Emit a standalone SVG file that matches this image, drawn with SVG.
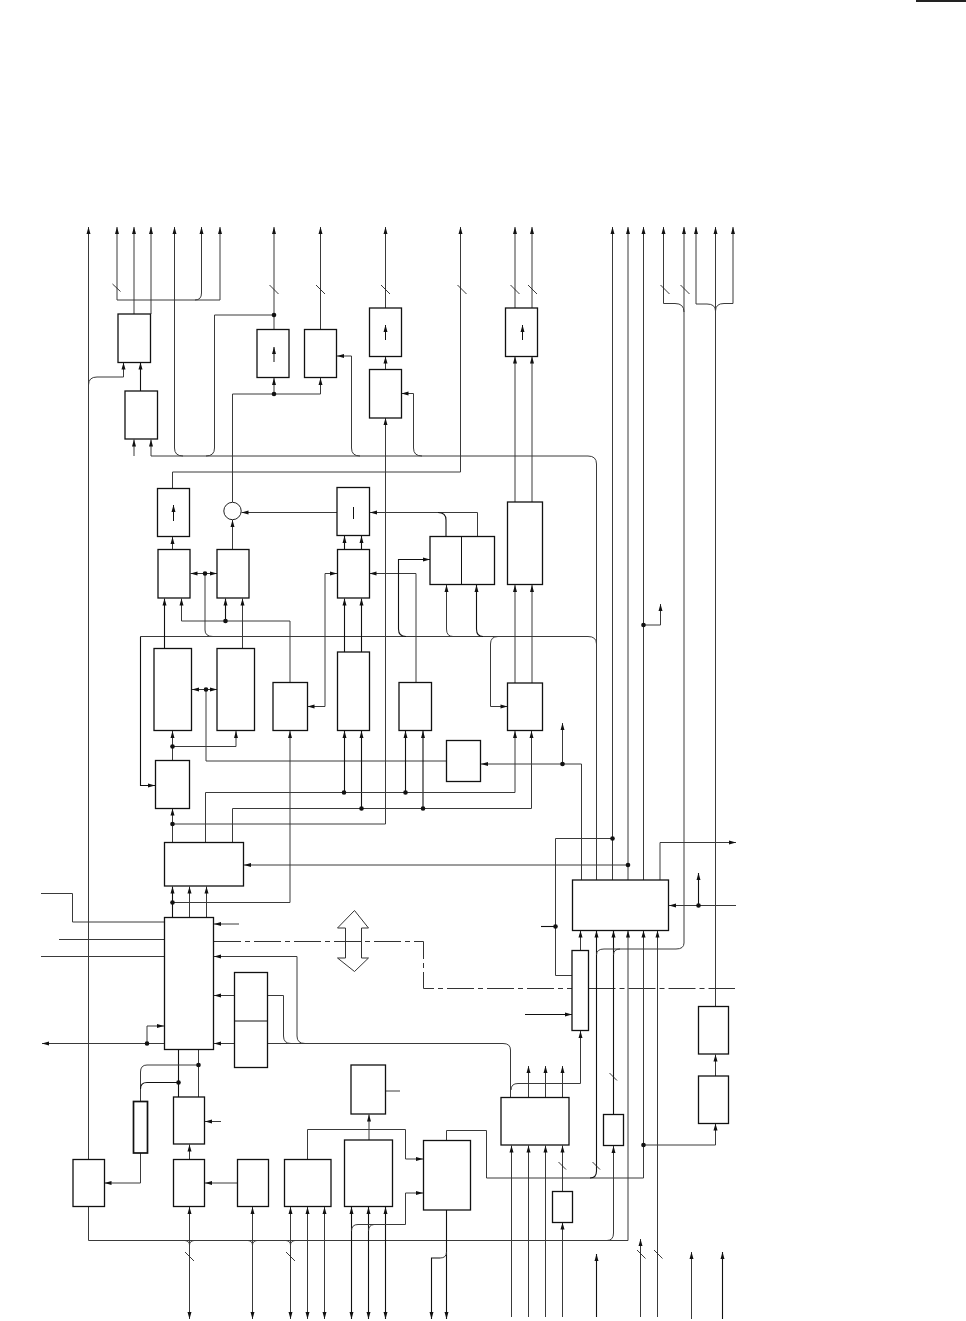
<svg xmlns="http://www.w3.org/2000/svg" width="966" height="1321" viewBox="0 0 966 1321">
<style>
.l{fill:none;stroke:#3a3a3a;stroke-width:1}
.h{fill:none;stroke:#111;stroke-width:1.1}
.a{marker-end:url(#ah)}
.b{marker-start:url(#ah);marker-end:url(#ah)}
.s{fill:none;stroke:#222;stroke-width:.9}
.d{fill:none;stroke:#333;stroke-width:1;stroke-dasharray:27 4 5 4}
.n{fill:#fff;stroke:#111;stroke-width:1.3}
.t{fill:#fff;stroke:#111;stroke-width:1.7}
.i{fill:none;stroke:#111;stroke-width:1}
circle.p{fill:#111;stroke:none}
</style>
<defs>
<marker id="ah" markerUnits="userSpaceOnUse" markerWidth="8" markerHeight="6" refX="7.5" refY="3" orient="auto-start-reverse"><path d="M0.5 1 L7.5 3 L0.5 5 Z" fill="#111"/></marker>
</defs>
<rect id="corner-bar" x="916" y="0" width="50" height="2" fill="#222"/>
<g id="connectors">
<path class="l a" d="M88.500 1159V227"/>
<path class="l" d="M88.500 385Q88.500 377 97 377H123.500"/>
<path class="l a" d="M123.500 377V362.500"/>
<path class="l a" d="M117 300V227"/>
<path class="l a" d="M134 314V227"/>
<path class="l a" d="M151 314V227"/>
<path class="l" d="M117 300H220"/>
<path class="l" d="M195 300Q201.500 300 201.500 293"/>
<path class="l a" d="M201.500 293V227"/>
<path class="l a" d="M220 300V227"/>
<path class="h a" d="M140.500 391V362.500"/>
<path class="l a" d="M134 456V439.500"/>
<path class="l a" d="M151 456V439.500"/>
<path class="l" d="M151 456H588Q596.500 456 596.500 464V880"/>
<path class="l a" d="M183 456Q174.500 456 174.500 448V227"/>
<path class="l" d="M206 456Q214.500 456 214.500 448V315H274"/>
<path class="l a" d="M274 329V227"/>
<path class="l a" d="M320.500 329V227"/>
<path class="l" d="M232.500 502V394H320.500"/>
<path class="l a" d="M274 394V378"/>
<path class="l a" d="M320.500 394V378"/>
<path class="l a" d="M360 456Q351.500 456 351.500 448V356H337"/>
<path class="l a" d="M422 456Q413.500 456 413.500 448V393.500H401.500"/>
<path class="l a" d="M385.500 308V227"/>
<path class="l a" d="M385.500 369V356.500"/>
<path class="l a" d="M385.500 824V418"/>
<path class="l a" d="M515 308V227"/>
<path class="l a" d="M532 308V227"/>
<path class="l a" d="M515 502V356.500"/>
<path class="l a" d="M532 502V356.500"/>
<path class="l a" d="M612.500 880V227"/>
<path class="l a" d="M628 880V227"/>
<path class="l a" d="M643.500 880V227"/>
<path class="l a" d="M663.500 303.500V227"/>
<path class="l" d="M663.500 303.500H675Q684 303.500 684 312"/>
<path class="l a" d="M684 943V227"/>
<path class="l a" d="M696 304V227"/>
<path class="l a" d="M715.500 1006V227"/>
<path class="l a" d="M733 303.500V227"/>
<path class="l" d="M696 304H707Q715.500 304 715.500 311Q715.500 303.500 724 303.500H733"/>
<path class="l" d="M172.500 488V472H460.500"/>
<path class="l a" d="M460.500 472V227"/>
<path class="l a" d="M172.500 550V537"/>
<path class="l a" d="M232.500 550V520"/>
<path class="l a" d="M337 512.500H241.500"/>
<path class="l a" d="M477.500 537V512.500H370"/>
<path class="h" d="M446 537V520Q446 512.500 438 512.500"/>
<path class="h a" d="M344.500 550V536"/>
<path class="h a" d="M361.500 550V536"/>
<path class="l a" d="M205 573.500H190.500"/>
<path class="l a" d="M205 573.500H217"/>
<path class="l" d="M205 573.500V630Q205 636.500 213 636.500"/>
<path class="l" d="M140.500 636.500H588Q596.500 636.500 596.500 644"/>
<path class="h a" d="M140.500 636.500V785.500H155"/>
<path class="l a" d="M206 689.500H192"/>
<path class="l a" d="M206 689.500H217"/>
<path class="l" d="M206 689.500V761H446"/>
<path class="h a" d="M164.500 648V598.500"/>
<path class="l a" d="M242.500 648V598.500"/>
<path class="l a" d="M181.500 621V598.500"/>
<path class="l" d="M181.500 621H290V682"/>
<path class="h a" d="M225.500 621V598.500"/>
<path class="l a" d="M290 902.500V731"/>
<path class="l" d="M172.500 902.500H290"/>
<path class="l a" d="M325 706.500H307.500"/>
<path class="l a" d="M325 706.500V573.500H337"/>
<path class="h a" d="M344.500 652V598.500"/>
<path class="h a" d="M361.500 652V598.500"/>
<path class="h a" d="M344.500 792V731"/>
<path class="h a" d="M361.500 808.500V731"/>
<path class="l a" d="M416 682V573.500H369.500"/>
<path class="h a" d="M405.500 792V731"/>
<path class="h a" d="M423 808.500V731"/>
<path class="h a" d="M406 636.500Q398.500 636.500 398.500 629V559.500H430"/>
<path class="l a" d="M453 636.500Q446.500 636.500 446.500 629V585"/>
<path class="h a" d="M483 636.500Q476.500 636.500 476.500 629V585"/>
<path class="l a" d="M515 683V585"/>
<path class="l a" d="M532 683V585"/>
<path class="l a" d="M498 636.500Q490.500 636.500 490.500 644V706.500H507.500"/>
<path class="l a" d="M205.500 842V792.500H515V731"/>
<path class="l a" d="M232.500 842V808.500H531.500V731"/>
<path class="l a" d="M172.500 842V808.500"/>
<path class="l a" d="M172.500 760V731"/>
<path class="l a" d="M172.500 746.500H236V731"/>
<path class="l" d="M172.500 824H385.500"/>
<path class="l a" d="M581.500 880V764H481"/>
<path class="l a" d="M562.500 764V723"/>
<path class="l a" d="M643.500 625H660.500V604"/>
<path class="l" d="M612.500 838.500H555.500V975.500H572"/>
<path class="h" d="M541 926.500H555.500"/>
<path class="l a" d="M628 865H244"/>
<path class="l a" d="M660 880V842.500H736"/>
<path class="l a" d="M736 905.500H669"/>
<path class="h a" d="M698.500 905.500V873"/>
<path class="h a" d="M172.500 917V886.500"/>
<path class="l a" d="M189.500 917V886.500"/>
<path class="l a" d="M206.500 917V886.500"/>
<path class="l" d="M41 893.500H72.500V922H164"/>
<path class="l" d="M59 939.500H164"/>
<path class="l" d="M41 956.500H164"/>
<path class="l a" d="M239 924H214"/>
<path class="d" d="M214 941.500H423.500V988.500H572"/>
<path class="d" d="M588.500 988.500H735"/>
<path class="l a" d="M297 1036V956.500H214"/>
<path class="l" d="M305 1043.500Q297 1043.500 297 1036"/>
<path class="l" d="M268 1043.500H503Q510.500 1043.500 510.500 1050V1097"/>
<path class="l a" d="M234 995.500H214"/>
<path class="l" d="M268 995.500H283.500V1036Q283.500 1043.500 291 1043.500"/>
<path class="l a" d="M234 1043.500H214"/>
<path class="l a" d="M164 1043.500H42"/>
<path class="l a" d="M147 1043.500V1026H164"/>
<path class="h" d="M178.500 1050V1097"/>
<path class="l" d="M198.500 1050V1097"/>
<path class="l" d="M198.500 1065H147Q140.500 1065 140.500 1072V1101"/>
<path class="h" d="M178.500 1082.500H147Q140.500 1082.500 140.500 1089"/>
<path class="l a" d="M140.500 1153V1183H104.500"/>
<path class="l" d="M88.500 1206V1240.500H628"/>
<path class="l a" d="M628 1240.500V930.500"/>
<path class="l a" d="M607 1240.500Q613.500 1240.500 613.500 1233V1146"/>
<path class="h a" d="M613.500 1114V930.500"/>
<path class="l a" d="M189.500 1159V1144.500"/>
<path class="l a" d="M237 1183H205"/>
<path class="l a" d="M221 1121.500H205"/>
<path class="l b" d="M189.500 1207V1319"/>
<path class="l b" d="M252.500 1207V1319"/>
<path class="l b" d="M290.500 1207V1319"/>
<path class="l b" d="M307.500 1207V1319"/>
<path class="l b" d="M324.500 1207V1319"/>
<path class="h b" d="M351.500 1207V1319"/>
<path class="h b" d="M368.500 1207V1319"/>
<path class="h b" d="M385.500 1207V1319"/>
<path class="l" d="M185 1240.500Q189.500 1241 189.500 1245Q189.500 1241 194 1240.500"/>
<path class="l" d="M248 1240.500Q252.500 1241 252.500 1245Q252.500 1241 257 1240.500"/>
<path class="l" d="M286 1240.500Q290.500 1241 290.500 1245Q290.500 1241 295 1240.500"/>
<path class="l a" d="M307.500 1159V1129.500H405.500V1159H423"/>
<path class="l a" d="M405.500 1224.500V1193H423"/>
<path class="l" d="M405.500 1224.500H358Q351.500 1224.500 351.500 1231"/>
<path class="l" d="M374 1224.500Q368.500 1225 368.500 1231"/>
<path class="l a" d="M369 1140V1114.500"/>
<path class="l" d="M386 1091H400"/>
<path class="l" d="M446.500 1140V1130.500H486.500V1178H643.500"/>
<path class="h a" d="M590 1178Q596.500 1178 596.500 1171V930.500"/>
<path class="h a" d="M446.500 1210V1319"/>
<path class="h a" d="M440 1258H431.500V1319"/>
<path class="l" d="M440 1258Q446.500 1258 446.500 1252"/>
<path class="l" d="M518 1083.500Q511 1083.500 511 1090"/>
<path class="l a" d="M518 1083.500H580.500V1031"/>
<path class="l" d="M684 943Q684 949 676 949H604Q596.500 949 596.500 955"/>
<path class="l" d="M620 949Q613.500 949 613.500 955"/>
<path class="l a" d="M580.500 951V930.500"/>
<path class="h a" d="M525 1014.500H572"/>
<path class="l a" d="M643.500 1178V930.500"/>
<path class="l a" d="M657.500 1317V930.500"/>
<path class="l a" d="M643.500 1145H715.500V1123.500"/>
<path class="l a" d="M715.500 1076V1054.500"/>
<path class="l a" d="M528.500 1097.500V1066"/>
<path class="l a" d="M545.500 1097.500V1066"/>
<path class="l a" d="M562.500 1097.500V1066"/>
<path class="l a" d="M511.500 1317V1145.500"/>
<path class="l a" d="M528.500 1317V1145.500"/>
<path class="l a" d="M545.500 1317V1145.500"/>
<path class="l a" d="M562.500 1191V1145.500"/>
<path class="l a" d="M562.500 1317V1222.500"/>
<path class="h a" d="M596.500 1317V1254"/>
<path class="l a" d="M640.500 1317V1239"/>
<path class="l a" d="M691.500 1319V1252"/>
<path class="h a" d="M722.500 1319V1252"/>
<path class="s" d="M112.500 284l8 7.500M269.500 285l9 9M316 285l9 9M381 285l9 9M457.500 285l9 9M510.500 285l9 9M528 285l9 9M660.500 285l9 9M680.500 285l9 9M185 1252l9 9M286 1252l9 9M558.500 1162l7.500 7.500M592.500 1162l7.500 7.500M609.500 1073l7.500 7.500M637 1250l8.500 8.500M654 1250l8.500 8.500"/>
<circle class="p" cx="274" cy="315" r="2.300"/>
<circle class="p" cx="274" cy="394" r="2.300"/>
<circle class="p" cx="205" cy="573.500" r="2.300"/>
<circle class="p" cx="206" cy="689.500" r="2.300"/>
<circle class="p" cx="225.500" cy="621" r="2.300"/>
<circle class="p" cx="172.500" cy="746.500" r="2.300"/>
<circle class="p" cx="172.500" cy="824" r="2.300"/>
<circle class="p" cx="172.500" cy="902.500" r="2.300"/>
<circle class="p" cx="344" cy="792.500" r="2.300"/>
<circle class="p" cx="405.500" cy="792.500" r="2.300"/>
<circle class="p" cx="361.500" cy="808.500" r="2.300"/>
<circle class="p" cx="423" cy="808.500" r="2.300"/>
<circle class="p" cx="562.500" cy="764" r="2.300"/>
<circle class="p" cx="643.500" cy="625" r="2.300"/>
<circle class="p" cx="612.500" cy="838.500" r="2.300"/>
<circle class="p" cx="628" cy="865" r="2.300"/>
<circle class="p" cx="698.500" cy="905.500" r="2.300"/>
<circle class="p" cx="555.500" cy="926.500" r="2.300"/>
<circle class="p" cx="147" cy="1043.500" r="2.300"/>
<circle class="p" cx="198.500" cy="1065" r="2.300"/>
<circle class="p" cx="178.500" cy="1082.500" r="2.300"/>
<circle class="p" cx="643.500" cy="1145" r="2.300"/>
</g>
<g id="bus-arrow"><path d="M354.500 910.500L368.500 928H361.500V958H368.500L354.500 971.500L337.500 958H345.500V928H337.500Z" fill="none" stroke="#333" stroke-width="1"/></g>
<g id="n1"><rect class="n" x="118" y="314" width="32.500" height="48.500"/></g>
<g id="n2"><rect class="n" x="125" y="391" width="32.500" height="48"/></g>
<g id="n3"><rect class="n" x="257" y="329.500" width="32" height="48"/><path class="i a" d="M274 362V347"/></g>
<g id="n4"><rect class="n" x="304.500" y="329.500" width="32" height="48"/></g>
<g id="n5"><rect class="n" x="369.500" y="308" width="32" height="48.500"/><path class="i a" d="M385.500 340V325"/></g>
<g id="n6"><rect class="n" x="369.500" y="369.500" width="32" height="48.500"/></g>
<g id="n7"><rect class="n" x="505.500" y="308" width="32" height="48.500"/><path class="i a" d="M522.500 340V325"/></g>
<g id="n8"><rect class="n" x="157.500" y="488.500" width="32" height="48"/><path class="i a" d="M173.500 521V505"/></g>
<g id="n9"><circle cx="232.500" cy="511" r="8.700" fill="#fff" stroke="#222" stroke-width="1"/></g>
<g id="n10"><rect class="n" x="337" y="487.500" width="32.500" height="48"/><path class="i" d="M353.500 507V519"/></g>
<g id="n11"><rect class="n" x="507.500" y="502" width="35" height="82.500"/></g>
<g id="n12"><rect class="n" x="430" y="536.500" width="64.500" height="48"/><path class="i" stroke-width="1.300" d="M461.500 536.500V584.500"/></g>
<g id="n13"><rect class="n" x="158" y="549.500" width="32" height="48.500"/></g>
<g id="n14"><rect class="n" x="217" y="549.500" width="32" height="48.500"/></g>
<g id="n15"><rect class="n" x="337.500" y="549.500" width="32" height="48.500"/></g>
<g id="n16"><rect class="n" x="154" y="648.500" width="37.500" height="82"/></g>
<g id="n17"><rect class="n" x="217" y="648.500" width="37.500" height="82"/></g>
<g id="n18"><rect class="n" x="273" y="682.500" width="34.500" height="48"/></g>
<g id="n19"><rect class="n" x="337.500" y="652" width="32" height="78.500"/></g>
<g id="n20"><rect class="n" x="399" y="682.500" width="32.500" height="48"/></g>
<g id="n21"><rect class="n" x="507.500" y="683" width="35" height="47.500"/></g>
<g id="n22"><rect class="n" x="446.500" y="740.500" width="34" height="41"/></g>
<g id="n23"><rect class="n" x="155.500" y="760.500" width="34" height="48"/></g>
<g id="n24"><rect class="n" x="164.500" y="842.500" width="79" height="43.500"/></g>
<g id="n25"><rect class="n" x="164.500" y="917.500" width="49" height="132"/></g>
<g id="n26"><rect class="n" x="234.500" y="972.500" width="33" height="95"/><path class="i" stroke-width="1.300" d="M234.500 1021H267.500"/></g>
<g id="n27"><rect class="n" x="572.500" y="880" width="96" height="50.500"/></g>
<g id="n28"><rect class="n" x="572" y="950.500" width="16.500" height="80"/></g>
<g id="n29"><rect class="n" x="698.500" y="1006.500" width="30" height="47.500"/></g>
<g id="n30"><rect class="n" x="698.500" y="1076" width="30" height="47.500"/></g>
<g id="n31"><rect class="n" x="351" y="1065" width="34.500" height="49"/></g>
<g id="n32"><rect class="n" x="501" y="1097.500" width="68" height="47.500"/></g>
<g id="n33"><rect class="n" x="603.500" y="1114.500" width="20" height="31"/></g>
<g id="n34"><rect class="t" x="133.500" y="1101.500" width="14" height="51.500"/></g>
<g id="n35"><rect class="n" x="173.500" y="1097" width="31" height="47"/></g>
<g id="n36"><rect class="n" x="344.500" y="1140" width="48" height="66.500"/></g>
<g id="n37"><rect class="n" x="423.500" y="1140.500" width="47" height="69.500"/></g>
<g id="n38"><rect class="n" x="73" y="1159.500" width="31.500" height="47"/></g>
<g id="n39"><rect class="n" x="173.500" y="1159.500" width="31" height="47"/></g>
<g id="n40"><rect class="n" x="237.500" y="1159.500" width="31" height="47"/></g>
<g id="n41"><rect class="n" x="284.500" y="1159.500" width="46.500" height="47"/></g>
<g id="n42"><rect class="n" x="552.500" y="1191.500" width="20" height="31"/></g>
</svg>
